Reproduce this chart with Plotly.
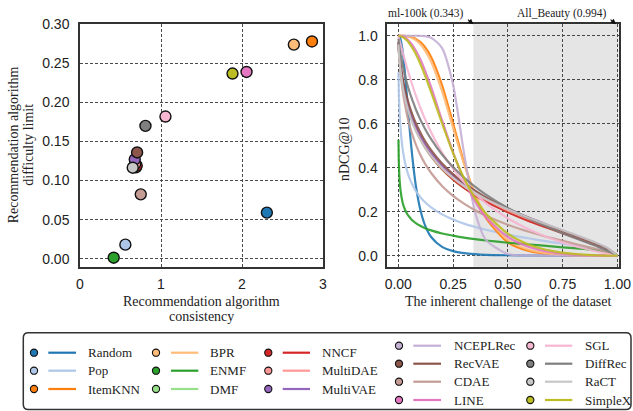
import plotly.graph_objects as go

# ---------------- data ----------------
algorithms = ["Random", "Pop", "ItemKNN", "BPR", "ENMF", "DMF", "NNCF", "MultiDAE",
              "MultiVAE", "NCEPLRec", "RecVAE", "CDAE", "LINE", "SGL", "DiffRec", "RaCT", "SimpleX"]
colors = ["#1f77b4", "#aec7e8", "#ff7f0e", "#ffbb78", "#2ca02c", "#98df8a", "#d62728", "#ff9896",
          "#9467bd", "#c5b0d5", "#8c564b", "#c49c94", "#e377c2", "#f7b6d2", "#7f7f7f", "#c7c7c7", "#bcbd22"]

# left panel: consistency (x) vs difficulty limit (y)
consistency = [2.307, 0.56, 2.864, 2.64, 0.416, 0.69, 0.70, 0.68, 0.676, 5.5, 0.705, 0.75,
               2.056, 1.055, 0.808, 0.651, 1.883]
difficulty = [0.059, 0.018, 0.278, 0.274, 0.0013, 0.117, 0.119, 0.121, 0.127, 0.295, 0.136, 0.0824,
              0.239, 0.182, 0.170, 0.1165, 0.237]

# right panel: nDCG@10 vs inherent challenge
challenge = [0.001, 0.003, 0.006, 0.01, 0.02, 0.03, 0.04, 0.05, 0.06, 0.07, 0.08, 0.1, 0.12, 0.15,
             0.2, 0.25, 0.3, 0.35, 0.4, 0.5, 0.6, 0.7, 0.8, 0.9, 0.95, 1.0]
ndcg_random = [1.0, 0.999, 0.995, 0.985, 0.930, 0.836, 0.719, 0.599, 0.490, 0.397, 0.320, 0.212, 0.144,
               0.085, 0.040, 0.021, 0.012, 0.007, 0.004, 0.002, 0.001, 0.0, 0.0, 0.0, 0.0, 0.0]
ndcg_pop = [0.836, 0.733, 0.651, 0.583, 0.485, 0.427, 0.387, 0.356, 0.332, 0.312, 0.295, 0.267, 0.245,
            0.220, 0.188, 0.165, 0.146, 0.131, 0.118, 0.096, 0.078, 0.062, 0.047, 0.030, 0.020, 0.0]
ndcg_itemknn = [1.0, 1.0, 1.0, 1.0, 1.0, 0.999, 0.998, 0.997, 0.994, 0.991, 0.986, 0.972, 0.951,
                0.903, 0.775, 0.602, 0.424, 0.277, 0.172, 0.061, 0.020, 0.006, 0.001, 0.0, 0.0, 0.0]
ndcg_bpr = [1.0, 1.0, 1.0, 1.0, 1.0, 0.999, 0.997, 0.995, 0.991, 0.986, 0.980, 0.962, 0.936,
            0.882, 0.748, 0.582, 0.417, 0.282, 0.182, 0.071, 0.026, 0.008, 0.002, 0.0, 0.0, 0.0]
ndcg_enmf = [0.527, 0.414, 0.346, 0.299, 0.241, 0.211, 0.191, 0.177, 0.165, 0.156, 0.148, 0.136, 0.126,
             0.115, 0.101, 0.091, 0.082, 0.075, 0.069, 0.059, 0.051, 0.042, 0.034, 0.025, 0.018, 0.0]
ndcg_dmf = [0.967, 0.932, 0.894, 0.855, 0.784, 0.732, 0.690, 0.654, 0.623, 0.596, 0.572, 0.530, 0.495,
            0.451, 0.392, 0.346, 0.308, 0.275, 0.247, 0.199, 0.158, 0.121, 0.087, 0.052, 0.032, 0.0]
ndcg_nncf = [0.969, 0.935, 0.898, 0.860, 0.790, 0.737, 0.695, 0.659, 0.628, 0.601, 0.576, 0.534, 0.498,
             0.453, 0.394, 0.347, 0.308, 0.275, 0.246, 0.198, 0.156, 0.120, 0.085, 0.050, 0.030, 0.0]
ndcg_multidae = [0.966, 0.931, 0.893, 0.855, 0.785, 0.734, 0.693, 0.658, 0.628, 0.601, 0.577, 0.536, 0.502,
                 0.458, 0.400, 0.354, 0.316, 0.283, 0.255, 0.206, 0.165, 0.127, 0.092, 0.055, 0.034, 0.0]
ndcg_multivae = [0.967, 0.932, 0.896, 0.859, 0.790, 0.740, 0.700, 0.665, 0.636, 0.610, 0.586, 0.545, 0.511,
                 0.467, 0.409, 0.364, 0.325, 0.292, 0.263, 0.214, 0.171, 0.133, 0.096, 0.058, 0.036, 0.0]
ndcg_nceplrec = [1.0, 1.0, 1.0, 1.0, 1.0, 1.0, 1.0, 1.0, 1.0, 1.0, 1.0, 0.999, 0.998,
                 0.991, 0.944, 0.778, 0.467, 0.200, 0.072, 0.008, 0.001, 0.0, 0.0, 0.0, 0.0, 0.0]
ndcg_recvae = [0.972, 0.942, 0.909, 0.874, 0.808, 0.759, 0.719, 0.684, 0.654, 0.627, 0.603, 0.561, 0.525,
               0.480, 0.419, 0.371, 0.330, 0.296, 0.265, 0.214, 0.170, 0.130, 0.093, 0.055, 0.033, 0.0]
ndcg_cdae = [0.967, 0.927, 0.883, 0.837, 0.752, 0.690, 0.640, 0.599, 0.564, 0.533, 0.506, 0.460, 0.422,
             0.376, 0.317, 0.272, 0.237, 0.207, 0.182, 0.141, 0.108, 0.080, 0.055, 0.031, 0.018, 0.0]
ndcg_line = [1.0, 1.0, 1.0, 0.999, 0.996, 0.992, 0.985, 0.975, 0.964, 0.950, 0.933, 0.894, 0.847,
             0.766, 0.615, 0.470, 0.345, 0.248, 0.175, 0.085, 0.039, 0.016, 0.005, 0.001, 0.0, 0.0]
ndcg_sgl = [0.997, 0.989, 0.978, 0.963, 0.925, 0.889, 0.854, 0.821, 0.789, 0.758, 0.729, 0.675, 0.626,
            0.561, 0.469, 0.395, 0.334, 0.282, 0.239, 0.170, 0.118, 0.077, 0.045, 0.020, 0.009, 0.0]
ndcg_diffrec = [0.987, 0.968, 0.945, 0.919, 0.866, 0.822, 0.783, 0.750, 0.720, 0.692, 0.666, 0.621, 0.581,
                0.530, 0.460, 0.403, 0.355, 0.314, 0.278, 0.217, 0.167, 0.123, 0.083, 0.045, 0.025, 0.0]
ndcg_ract = [0.960, 0.921, 0.882, 0.842, 0.771, 0.720, 0.679, 0.645, 0.616, 0.590, 0.567, 0.528, 0.495,
             0.453, 0.397, 0.354, 0.317, 0.286, 0.258, 0.211, 0.170, 0.134, 0.098, 0.060, 0.038, 0.0]
ndcg_simplex = [1.0, 1.0, 0.999, 0.998, 0.994, 0.987, 0.978, 0.966, 0.952, 0.935, 0.917, 0.874, 0.825,
                0.744, 0.601, 0.467, 0.353, 0.262, 0.192, 0.100, 0.049, 0.022, 0.008, 0.002, 0.0, 0.0]

ndcg_curves = [ndcg_random, ndcg_pop, ndcg_itemknn, ndcg_bpr, ndcg_enmf, ndcg_dmf, ndcg_nncf,
               ndcg_multidae, ndcg_multivae, ndcg_nceplrec, ndcg_recvae, ndcg_cdae, ndcg_line,
               ndcg_sgl, ndcg_diffrec, ndcg_ract, ndcg_simplex]

left_yticks = [0.0, 0.05, 0.10, 0.15, 0.20, 0.25, 0.30]
left_xticks = [0, 1, 2, 3]
right_xticks = [0.0, 0.25, 0.5, 0.75, 1.0]
right_yticks = [0.0, 0.2, 0.4, 0.6, 0.8, 1.0]
datasets = ["ml-100k", "All_Beauty"]
dataset_challenge = [0.343, 0.994]

# ---------------- layout helpers ----------------
W, H = 633, 411
def px(x):
    return x / W
def py(y):
    return 1 - y / H

SERIF = "Liberation Serif, Times New Roman, serif"
SANS = "Liberation Sans, Arial, sans-serif"
TXT = "#222222"

fig = go.Figure()

# right panel curves
for name, col, ys in zip(algorithms, colors, ndcg_curves):
    fig.add_trace(go.Scatter(x=challenge, y=ys, mode="lines", name=name,
                             line=dict(color=col, width=2.2, shape="spline", smoothing=0.7),
                             opacity=0.9, xaxis="x2", yaxis="y2", showlegend=False,
                             hoverinfo="skip"))

# left panel scatter
fig.add_trace(go.Scatter(x=consistency, y=difficulty, mode="markers", text=algorithms,
                         marker=dict(color=colors, size=11, line=dict(color="#111111", width=1.4)),
                         xaxis="x", yaxis="y", showlegend=False, cliponaxis=True))

ydom = [py(266.7), py(24.3)]
axis_common = dict(showline=True, mirror=True, linecolor="#333333", linewidth=1.5,
                   showgrid=True, gridcolor="#4a4a4a", gridwidth=1, griddash="3px,2px",
                   zeroline=False, ticks="outside", tickcolor="rgba(0,0,0,0)", automargin=False,
                   tickfont=dict(family=SANS, size=14, color=TXT))

fig.update_layout(
    width=W, height=H, margin=dict(l=0, r=0, t=0, b=0, pad=0, autoexpand=False),
    paper_bgcolor="white", plot_bgcolor="white", showlegend=False,
    xaxis=dict(domain=[px(80), px(323)], range=[0, 3], tickvals=left_xticks, ticklen=4,
               anchor="y", **axis_common),
    yaxis=dict(domain=ydom, range=[-0.0102, 0.30], tickvals=left_yticks, tickformat=".2f",
               ticklen=6, anchor="x", **axis_common),
    xaxis2=dict(domain=[px(387.3), px(618.7)], range=[-0.05, 1.006], tickvals=right_xticks,
                tickformat=".2f", ticklen=4, anchor="y2", **axis_common),
    yaxis2=dict(domain=ydom, range=[-0.05, 1.052], tickvals=right_yticks, tickformat=".1f",
                ticklen=5, anchor="x2", **axis_common),
)

shapes = []
# shaded region (harder datasets)
shapes.append(dict(type="rect", xref="x2", yref="y2 domain", x0=dataset_challenge[0], x1=1.006,
                   y0=0, y1=1, fillcolor="#e5e5e5", line=dict(width=0), layer="below"))

annotations = []
# axis titles
annotations += [
    dict(x=px(201.5), y=py(301.7), text="Recommendation algorithm"),
    dict(x=px(201.5), y=py(316.7), text="consistency"),
    dict(x=px(13.3), y=py(145), text="Recommendation algorithm", textangle=-90),
    dict(x=px(27.7), y=py(145), text="difficulty limit", textangle=-90),
    dict(x=px(344), y=py(150), text="nDCG@10", textangle=-90),
    dict(x=px(508), y=py(301.7), text="The inherent challenge of the dataset"),
]
for a in annotations:
    a.update(xref="paper", yref="paper", showarrow=False, xanchor="center", yanchor="middle",
             font=dict(family=SERIF, size=14, color=TXT))

# dataset markers at top of right panel
text_centers = [426.3, 561.8]
for name, val, cx in zip(datasets, dataset_challenge, text_centers):
    annotations.append(dict(xref="paper", yref="paper", x=px(cx), y=py(13.3),
                            text=f"{name} ({val})", showarrow=False, xanchor="center",
                            yanchor="middle", font=dict(family=SERIF, size=11.5, color=TXT)))
    annotations.append(dict(xref="x2", yref="y2 domain", x=val, y=1, text="", showarrow=True,
                            ax=-7, ay=-6, arrowhead=2, arrowsize=0.9, arrowwidth=1.2,
                            arrowcolor="#111111"))

# ---------------- custom legend ----------------
lx0, lx1, ly0, ly1 = 23.3, 631.0, 332.7, 409.5
r = 5
path = (f"M {px(lx0 + r)},{py(ly0)} L {px(lx1 - r)},{py(ly0)} Q {px(lx1)},{py(ly0)} {px(lx1)},{py(ly0 + r)} "
        f"L {px(lx1)},{py(ly1 - r)} Q {px(lx1)},{py(ly1)} {px(lx1 - r)},{py(ly1)} "
        f"L {px(lx0 + r)},{py(ly1)} Q {px(lx0)},{py(ly1)} {px(lx0)},{py(ly1 - r)} "
        f"L {px(lx0)},{py(ly0 + r)} Q {px(lx0)},{py(ly0)} {px(lx0 + r)},{py(ly0)} Z")
shapes.append(dict(type="path", xref="paper", yref="paper", path=path,
                   line=dict(color="#333333", width=1.5), fillcolor="white", layer="above"))

col_marker = [34, 156, 268.3, 399, 530.3]
col_line0 = [48.3, 171, 282.7, 413.3, 545]
col_line1 = [76, 198.3, 310, 441, 572.3]
col_text = [86, 208.3, 320, 451.7, 582.7]
rows3 = [352.7, 370.7, 389]
rows4 = [345.7, 363.7, 381.7, 400]
legend_columns = [[0, 1, 2], [3, 4, 5], [6, 7, 8], [9, 10, 11, 12], [13, 14, 15, 16]]

for ci, members in enumerate(legend_columns):
    rows = rows3 if len(members) == 3 else rows4
    for ri, idx in enumerate(members):
        yy = rows[ri]
        shapes.append(dict(type="circle", xref="paper", yref="paper", xsizemode="pixel",
                           ysizemode="pixel", xanchor=px(col_marker[ci]), yanchor=py(yy),
                           x0=-3.6, x1=3.6, y0=-3.6, y1=3.6, fillcolor=colors[idx],
                           line=dict(color="#111111", width=1.1), layer="above"))
        shapes.append(dict(type="line", xref="paper", yref="paper",
                           x0=px(col_line0[ci]), x1=px(col_line1[ci]), y0=py(yy), y1=py(yy),
                           line=dict(color=colors[idx], width=2.2), layer="above"))
        annotations.append(dict(xref="paper", yref="paper", x=px(col_text[ci]), y=py(yy),
                                text=algorithms[idx], showarrow=False, xanchor="left",
                                yanchor="middle", font=dict(family=SERIF, size=13, color=TXT)))

fig.update_layout(shapes=shapes, annotations=annotations)
fig.write_html("out.html", config={"displayModeBar": False},
               post_script="document.body.style.margin='0';document.body.style.overflow='hidden';")
